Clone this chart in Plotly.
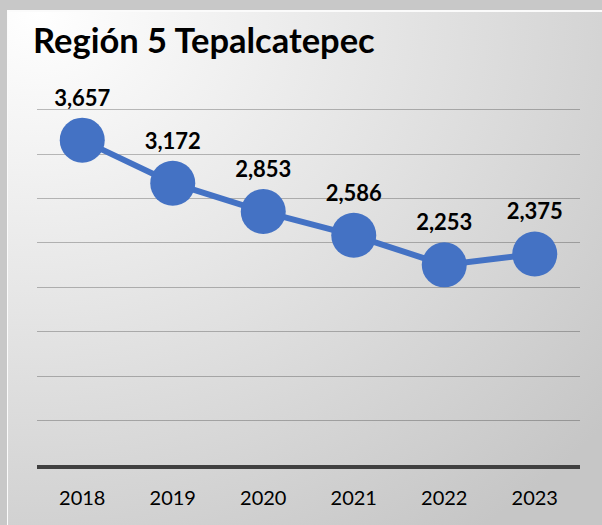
import base64
import plotly.graph_objects as go

years = ["2018", "2019", "2020", "2021", "2022", "2023"]
values = [3657, 3172, 2853, 2586, 2253, 2375]
labels = ["3,657", "3,172", "2,853", "2,586", "2,253", "2,375"]
title_text = "Región 5 Tepalcatepec"

W, H = 602, 525
L, R, T, B = 37, 22, 107, 60
PW, PH = W - L - R, H - T - B

svg = f"""<svg xmlns='http://www.w3.org/2000/svg' width='{W}' height='{H}' viewBox='0 0 {W} {H}' preserveAspectRatio='none'>
<defs><radialGradient id='g' cx='0.05' cy='0' r='1.25' gradientUnits='objectBoundingBox'>
<stop offset='0' stop-color='#ffffff'/><stop offset='0.45' stop-color='#e6e6e6'/><stop offset='1' stop-color='#c6c6c6'/></radialGradient></defs>
<rect x='0' y='0' width='{W}' height='{H}' fill='#c8c8c8'/>
<rect x='7' y='10' width='{W-7}' height='{H-10}' fill='#fbfbfb'/>
<rect x='8' y='12' width='{W-8}' height='{H-12}' fill='url(#g)'/>
</svg>"""
src = "data:image/svg+xml;base64," + base64.b64encode(svg.encode()).decode()

fig = go.Figure()
fig.add_trace(go.Scatter(
    x=years, y=values, mode="lines+markers+text",
    text=labels, textposition="top center",
    textfont=dict(family="Lato", size=22, color="#000000", weight="bold"),
    line=dict(color="#4472c4", width=6),
    marker=dict(color="#4472c4", size=45),
    cliponaxis=False, hoverinfo="skip",
))

fig.add_layout_image(dict(
    source=src, xref="paper", yref="paper",
    x=-L / PW, y=1 + T / PH, sizex=W / PW, sizey=H / PH,
    xanchor="left", yanchor="top", sizing="stretch", layer="below",
))

fig.update_layout(
    width=W, height=H,
    margin=dict(l=L, r=R, t=T, b=B),
    paper_bgcolor="#ffffff", plot_bgcolor="rgba(0,0,0,0)",
    showlegend=False,
    title=dict(text=title_text, x=33 / W, xanchor="left", xref="container",
               y=1 - 41 / H, yanchor="middle", yref="container",
               font=dict(family="Lato", size=34.5, color="#000000", weight="bold")),
    xaxis=dict(type="category", range=[-0.5, 5.5], showgrid=False, showline=True,
               linecolor="#404040", linewidth=4, ticks="outside", ticklen=12,
               tickcolor="rgba(0,0,0,0)",
               tickfont=dict(family="Lato", size=20, color="#000000"), fixedrange=True),
    yaxis=dict(range=[0, 4030], tickmode="linear", tick0=0, dtick=500,
               showticklabels=False, showgrid=True,
               gridcolor="rgba(0,0,0,0.25)", gridwidth=1.3, zeroline=False, fixedrange=True),
)

fig.write_html("out.html", config={"displayModeBar": False},
               post_script="document.body.style.margin='0';document.body.style.padding='0';")
